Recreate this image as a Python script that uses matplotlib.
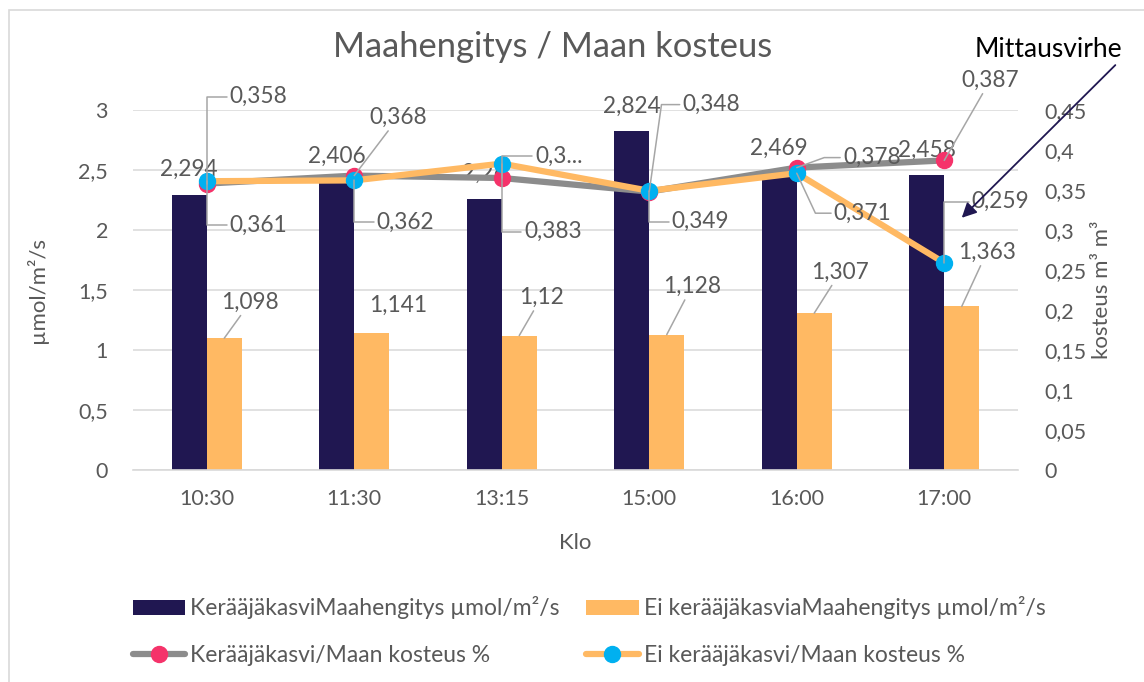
import matplotlib
matplotlib.use("Agg")
import matplotlib.pyplot as plt
import numpy as np
from matplotlib.patches import Rectangle
from matplotlib.transforms import offset_copy

# ---- data ----
categories = ["10:30", "11:30", "13:15", "15:00", "16:00", "17:00"]
resp_catch = [2.294, 2.406, 2.26, 2.824, 2.469, 2.458]
resp_nocatch = [1.098, 1.141, 1.12, 1.128, 1.307, 1.363]
moist_catch = [0.358, 0.368, 0.365, 0.348, 0.378, 0.387]
moist_nocatch = [0.361, 0.362, 0.383, 0.349, 0.371, 0.259]
moist_catch_labels = ["0,358", "0,368", "0,3...", "0,348", "0,378", "0,387"]
left_ticks = [0, 0.5, 1, 1.5, 2, 2.5, 3]
right_ticks = [0, 0.05, 0.1, 0.15, 0.2, 0.25, 0.3, 0.35, 0.4, 0.45]

series_names = ["KerääjäkasviMaahengitys µmol/m²/s",
                "Ei kerääjäkasviaMaahengitys µmol/m²/s",
                "Kerääjäkasvi/Maan kosteus %",
                "Ei kerääjäkasvi/Maan kosteus %"]

def fi(v):
    s = ("%.3f" % v).rstrip("0").rstrip(".")
    return s.replace(".", ",")

# ---- style ----
FONT = "Lato"
plt.rcParams["font.family"] = [FONT, "DejaVu Sans"]
TXT = "#595959"
DARK = "#201751"
ORANGE = "#FFB963"
GRAY = "#8C8C8C"
RED = "#F5336A"
BLUE = "#00B0F0"
GRID = "#D9D9D9"
LEAD = "#A6A6A6"
TICK_FS = 15.5
LBL_FS = 16.3

W, H = 1144, 682
fig = plt.figure(figsize=(W / 100, H / 100), dpi=100)
fig.patches.append(Rectangle((9 / W, -0.1), 1.5, 1.1 - 10 / H, transform=fig.transFigure,
                             fill=False, edgecolor=GRID, lw=1.2))

ax = fig.add_axes([133 / W, 1 - 470 / H, (1018 - 133) / W, 360 / H])
ax2 = ax.twinx()

x = np.arange(len(categories))
bw = 0.237
b1 = ax.bar(x - bw / 2, resp_catch, bw, color=DARK, zorder=2, label=series_names[0])
b2 = ax.bar(x + bw / 2, resp_nocatch, bw, color=ORANGE, zorder=2, label=series_names[1])

ax.set_xlim(-0.5, len(categories) - 0.5)
ax.set_ylim(0, 3)
ax.set_yticks(left_ticks)
ax.set_yticklabels([fi(t) for t in left_ticks])
ax2.set_ylim(0, 0.45)
ax2.set_yticks(right_ticks)
ax2.set_yticklabels([fi(t) for t in right_ticks])
ax.set_xticks(x)
ax.set_xticklabels(categories)

ax.grid(axis="y", color=GRID, lw=1.1, zorder=0)
ax.set_axisbelow(True)
for a in (ax, ax2):
    for s in a.spines.values():
        s.set_visible(False)
    a.tick_params(length=0, colors=TXT, labelsize=TICK_FS)
ax.spines["bottom"].set_visible(True)
ax.spines["bottom"].set_color(GRID)
ax.spines["bottom"].set_linewidth(1.2)
ax.tick_params(axis="x", pad=14)
ax.tick_params(axis="y", pad=18)
ax2.tick_params(axis="y", pad=19)

ax.set_xlabel("Klo", fontsize=16, color=TXT, labelpad=17)
ax.set_ylabel("µmol/m²/s", fontsize=16, color=TXT, labelpad=22)
ax2.set_ylabel("kosteus m³ m³", fontsize=16, color=TXT, labelpad=4)
fig.text(553 / W, 1 - 47 / H, "Maahengitys / Maan kosteus", fontsize=24.8, color=TXT,
         ha="center", va="center")

# lines
l1, = ax2.plot(x, moist_catch, color=GRAY, lw=4.5, marker="o", ms=11.5,
               mfc=RED, mec=RED, zorder=3, label=series_names[2], solid_capstyle="round")
l2, = ax2.plot(x, moist_nocatch, color=ORANGE, lw=4.5, marker="o", ms=11.5,
               mfc=BLUE, mec=BLUE, zorder=4, label=series_names[3], solid_capstyle="round")

# dark bar labels
for xi, v in zip(x, resp_catch):
    ax.annotate(fi(v), (xi - bw / 2, v), xytext=(0, 25), textcoords="offset pixels",
                ha="center", va="center", fontsize=LBL_FS, color=TXT, zorder=2.5)

# orange bar labels (offsets in pixels, leader straight)
orange_off = [(26, 36), (26, 28), (22, 38), (25, 48), (26, 41), (25, 54)]
orange_lead = [True, False, True, True, True, True]
for xi, v, (dx, dy), ld in zip(x, resp_nocatch, orange_off, orange_lead):
    ap = dict(arrowstyle="-", color=LEAD, lw=1.1, shrinkA=0, shrinkB=0) if ld else None
    ax.annotate(fi(v), (xi + bw / 2, v), xytext=(dx, dy), textcoords="offset pixels",
                ha="center", va="center", fontsize=LBL_FS, color=TXT, arrowprops=ap, zorder=2.5)

# moisture labels: (dx, dy up, connectionstyle)
catch_off = [(52, 87, "angle,angleA=0,angleB=90,rad=0"),
             (44, 58, "arc3"),
             (57, 22, "angle,angleA=0,angleB=90,rad=0"),
             (62, 87, "angle,angleA=0,angleB=82,rad=0"),
             (75, 10, "angle,angleA=0,angleB=20,rad=0"),
             (46, 80, "arc3")]
nocatch_off = [(52, -44, "angle,angleA=0,angleB=90,rad=0"),
               (51, -42, "angle,angleA=0,angleB=90,rad=0"),
               (51, -68, "angle,angleA=0,angleB=90,rad=0"),
               (51, -31, "angle,angleA=0,angleB=90,rad=0"),
               (66, -40, "angle,angleA=0,angleB=115,rad=0"),
               (56, 61, "angle,angleA=0,angleB=90,rad=0")]
for xi, v, lab, (dx, dy, cs) in zip(x, moist_catch, moist_catch_labels, catch_off):
    ax2.annotate(lab, (xi, v), xytext=(dx, dy), textcoords="offset pixels",
                 ha="center", va="center", fontsize=LBL_FS, color=TXT, zorder=6,
                 arrowprops=dict(arrowstyle="-", color=LEAD, lw=1.1, shrinkA=0, shrinkB=0,
                                 connectionstyle=cs))
for xi, v, (dx, dy, cs) in zip(x, moist_nocatch, nocatch_off):
    ax2.annotate(fi(v), (xi, v), xytext=(dx, dy), textcoords="offset pixels",
                 ha="center", va="center", fontsize=LBL_FS, color=TXT, zorder=6,
                 arrowprops=dict(arrowstyle="-", color=LEAD, lw=1.1, shrinkA=0, shrinkB=0,
                                 connectionstyle=cs))

# Mittausvirhe annotation arrow pointing near the 17:00 low point
tr = offset_copy(ax2.transData, fig=fig, x=17.5, y=45, units="dots")
ax2.annotate("Mittausvirhe", (x[-1], moist_nocatch[-1]), xycoords=tr,
             xytext=(87, 168), textcoords="offset pixels", ha="center", va="center",
             fontsize=19, color="black", annotation_clip=False, zorder=7,
             arrowprops=dict(arrowstyle="-|>", color=DARK, lw=1.3, mutation_scale=22,
                             shrinkA=0, shrinkB=0, relpos=(0.97, 0.0)))

# legend (bars on first row, lines on second)
leg = fig.legend(handles=[b1, l1, b2, l2],
                 labels=[series_names[0], series_names[2], series_names[1], series_names[3]],
                 ncol=2, loc="center", bbox_to_anchor=(589 / W, 1 - 631 / H),
                 frameon=False, fontsize=16.5, labelcolor=TXT,
                 handlelength=2.3, handletextpad=0.22, columnspacing=1.13,
                 labelspacing=1.1, handleheight=0.65)

fig.savefig("out.png", dpi=100)
